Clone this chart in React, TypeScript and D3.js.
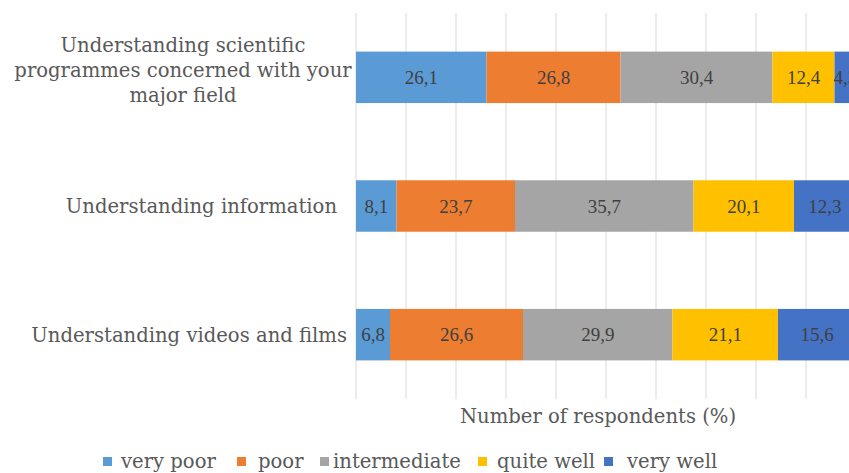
import React from "react";
import * as d3 from "d3";

const categories = [
  "Understanding scientific programmes concerned with your major field",
  "Understanding information",
  "Understanding videos and films",
];
const categoryLines = [
  ["Understanding scientific", "programmes concerned with your", "major field"],
  ["Understanding information"],
  ["Understanding videos and films"],
];
const seriesNames = ["very poor", "poor", "intermediate", "quite well", "very well"];
const veryPoor = [26.1, 8.1, 6.8];
const poor = [26.8, 23.7, 26.6];
const intermediate = [30.4, 35.7, 29.9];
const quiteWell = [12.4, 20.1, 21.1];
const veryWell = [4.3, 12.3, 15.6];
const xTicks = [0, 10, 20, 30, 40, 50, 60, 70, 80, 90, 100];
const xTitle = "Number of respondents (%)";
const colors = ["#5B9BD5", "#ED7D31", "#A5A5A5", "#FFC000", "#4472C4"];

const W = 849;
const H = 473;
const TEXT = "#595959";
const LABEL_FONT = "'DejaVu Serif', serif";
const NUM_FONT = "'Liberation Serif', 'Times New Roman', serif";
const FS = 19.6;

// layout: label anchor positions (middle for wrapped, end for single line)
const labelAnchorX = [183, 337, 347];
const labelShiftY = [-7, 0, 0];
const legendSquareX = [103, 237, 320, 478, 604];
const legendTextX = [121, 258, 333, 497, 627];

export default function App() {
  const table = categories.map((c, i) => ({
    cat: c,
    "very poor": veryPoor[i],
    poor: poor[i],
    intermediate: intermediate[i],
    "quite well": quiteWell[i],
    "very well": veryWell[i],
  }));
  const stacked = d3.stack<any>().keys(seriesNames)(table);
  const x = d3.scaleLinear().domain([0, 100]).range([356, 856]);
  const y = d3
    .scaleBand<string>()
    .domain(categories)
    .range([13, 399])
    .paddingInner(0.6)
    .paddingOuter(0.3);
  const color = d3.scaleOrdinal<string, string>().domain(seriesNames).range(colors);

  return (
    <svg
      width={W}
      height={H}
      style={{ position: "absolute", left: 0, top: 0, background: "#fff" }}
    >
      <rect width={W} height={H} fill="#fff" />
      {xTicks.map((t) => (
        <line
          key={t}
          x1={x(t)}
          x2={x(t)}
          y1={13}
          y2={399}
          stroke="#D9D9D9"
          strokeWidth={1}
        />
      ))}
      {stacked.map((s) => (
        <g key={s.key} fill={color(s.key)}>
          {s.map((d, i) => (
            <rect
              key={i}
              x={x(d[0])}
              width={x(d[1]) - x(d[0])}
              y={y(categories[i])}
              height={y.bandwidth()}
            />
          ))}
        </g>
      ))}
      {stacked.map((s) => (
        <g key={s.key + "l"}>
          {s.map((d, i) => (
            <text
              key={i}
              x={(x(d[0]) + x(d[1])) / 2}
              y={(y(categories[i]) as number) + y.bandwidth() / 2}
              dy="0.35em"
              textAnchor="middle"
              fontFamily={NUM_FONT}
              fontSize={19}
              fill="#404040"
            >
              {String((d.data as any)[s.key]).replace(".", ",")}
            </text>
          ))}
        </g>
      ))}
      {categoryLines.map((lines, i) => {
        const cy = (y(categories[i]) as number) + y.bandwidth() / 2 + labelShiftY[i];
        const lh = 25;
        const multi = lines.length > 1;
        return (
          <text
            key={i}
            fontFamily={LABEL_FONT}
            fontSize={FS}
            fill={TEXT}
            textAnchor={multi ? "middle" : "end"}
          >
            {lines.map((l, j) => (
              <tspan
                key={j}
                x={labelAnchorX[i]}
                y={cy + (j - (lines.length - 1) / 2) * lh}
                dy="0.35em"
              >
                {l}
              </tspan>
            ))}
          </text>
        );
      })}
      <text
        x={598}
        y={423}
        textAnchor="middle"
        fontFamily={LABEL_FONT}
        fontSize={FS}
        fill={TEXT}
      >
        {xTitle}
      </text>
      {seriesNames.map((n, i) => (
        <g key={n}>
          <rect x={legendSquareX[i]} y={457} width={9} height={9} fill={colors[i]} />
          <text
            x={legendTextX[i]}
            y={467.5}
            fontFamily={LABEL_FONT}
            fontSize={FS}
            fill={TEXT}
          >
            {n}
          </text>
        </g>
      ))}
    </svg>
  );
}
